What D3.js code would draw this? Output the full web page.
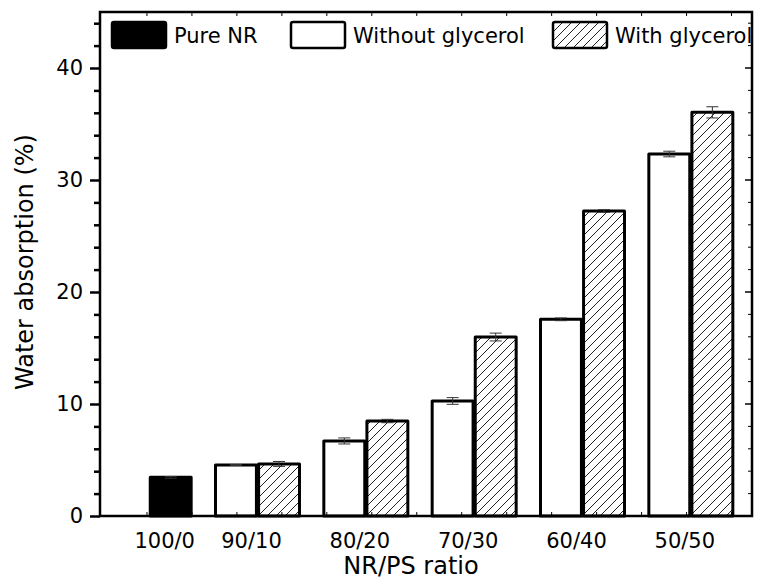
<!DOCTYPE html>
<html>
<head>
<meta charset="utf-8">
<script src="https://cdn.jsdelivr.net/npm/d3@7/dist/d3.min.js"></script>
<style>
  html, body { margin: 0; padding: 0; background: #fff; }
  svg { display: block; font-family: "DejaVu Sans", sans-serif; }
</style>
</head>
<body>
<svg id="chart" width="770" height="587"></svg>
<script>
// ---- data ----
const categories = ["100/0", "90/10", "80/20", "70/30", "60/40", "50/50"];
const seriesNames = ["Pure NR", "Without glycerol", "With glycerol"];
const pureNR      = [3.45, null, null, null, null, null];
const pureNRErr   = [0.08, null, null, null, null, null];
const withoutGly  = [null, 4.55, 6.70, 10.27, 17.56, 32.32];
const withoutErr  = [null, 0.04, 0.27, 0.30, 0.12, 0.25];
const withGly     = [null, 4.65, 8.48, 15.98, 27.23, 36.04];
const withErr     = [null, 0.22, 0.15, 0.35, 0.12, 0.50];
const yTicks = [0, 10, 20, 30, 40];

// ---- layout ----
const W = 770, H = 587;
const plot = { left: 100, right: 752, top: 12, bottom: 516 };
const svg = d3.select("#chart");

const y = d3.scaleLinear().domain([0, 45]).range([plot.bottom, plot.top]);
const x = d3.scaleBand().domain(categories).range([95, 745]).paddingInner(0).paddingOuter(0);
const inner = d3.scaleBand().domain(["a", "b"]).range([-42, 42]).paddingInner(0.05);

// hatch pattern
const defs = svg.append("defs");
const pat = defs.append("pattern").attr("id", "hatch").attr("patternUnits", "userSpaceOnUse")
  .attr("width", 9).attr("height", 9);
pat.append("path").attr("d", "M-2,2 l4,-4 M0,9 l9,-9 M7,11 l4,-4")
  .attr("stroke", "#222").attr("stroke-width", 1);

// bars
const bars = [];
categories.forEach((c, i) => {
  if (pureNR[i] != null) bars.push({ cat: c, slot: "b", v: pureNR[i], e: pureNRErr[i], s: 0 });
  if (withoutGly[i] != null) bars.push({ cat: c, slot: "a", v: withoutGly[i], e: withoutErr[i], s: 1 });
  if (withGly[i] != null) bars.push({ cat: c, slot: "b", v: withGly[i], e: withErr[i], s: 2 });
});
const fills = ["#000", "#fff", "url(#hatch)"];
const bx = d => x(d.cat) + x.bandwidth() / 2 + inner(d.slot);

svg.append("g").selectAll("rect").data(bars).join("rect")
  .attr("x", bx)
  .attr("y", d => y(d.v))
  .attr("width", inner.bandwidth())
  .attr("height", d => y(0) - y(d.v))
  .attr("fill", d => fills[d.s])
  .attr("stroke", "#000").attr("stroke-width", 3)
  .attr("stroke-linejoin", "round");

// error bars
const eg = svg.append("g").attr("stroke", "#333").attr("stroke-width", 1);
bars.forEach(d => {
  const cx = bx(d) + inner.bandwidth() / 2;
  eg.append("line").attr("x1", cx).attr("x2", cx).attr("y1", y(d.v + d.e)).attr("y2", y(d.v - d.e));
  eg.append("line").attr("x1", cx - 6).attr("x2", cx + 6).attr("y1", y(d.v + d.e)).attr("y2", y(d.v + d.e));
  eg.append("line").attr("x1", cx - 6).attr("x2", cx + 6).attr("y1", y(d.v - d.e)).attr("y2", y(d.v - d.e));
});

// frame minor ticks (top and bottom, inward)
const frameX = d3.scaleLinear().domain([0, 14.5]).range([plot.left + 2, plot.right + 2]);
const fticks = d3.range(1, 15);
svg.append("g").selectAll("line.tt").data(fticks).join("line")
  .attr("x1", d => frameX(d)).attr("x2", d => frameX(d))
  .attr("y1", plot.top).attr("y2", plot.top + 4)
  .attr("stroke", "#000").attr("stroke-width", 1);
svg.append("g").selectAll("line.bt").data(fticks).join("line")
  .attr("x1", d => frameX(d)).attr("x2", d => frameX(d))
  .attr("y1", plot.bottom).attr("y2", plot.bottom - 4)
  .attr("stroke", "#000").attr("stroke-width", 1);

// right axis inward ticks
const minorY = d3.range(0, 45, 2).filter(v => v % 10 !== 0);
svg.append("g").selectAll("line").data(minorY).join("line")
  .attr("x1", plot.right).attr("x2", plot.right - 4)
  .attr("y1", d => y(d)).attr("y2", d => y(d)).attr("stroke", "#000").attr("stroke-width", 1);
svg.append("g").selectAll("line").data(yTicks).join("line")
  .attr("x1", plot.right).attr("x2", plot.right - 7)
  .attr("y1", d => y(d)).attr("y2", d => y(d)).attr("stroke", "#000").attr("stroke-width", 1.5);

// frame box
svg.append("rect").attr("x", plot.left).attr("y", plot.top)
  .attr("width", plot.right - plot.left).attr("height", plot.bottom - plot.top)
  .attr("fill", "none").attr("stroke", "#000").attr("stroke-width", 2.5);

// left axis
const yAxis = d3.axisLeft(y).tickValues(yTicks).tickSize(10).tickPadding(7).tickFormat(d3.format("d"));
const gy = svg.append("g").attr("transform", `translate(${plot.left},0)`).call(yAxis);
gy.select(".domain").remove();
gy.selectAll(".tick line").attr("stroke-width", 2.5);
gy.selectAll(".tick text").attr("font-size", 21).attr("font-family", "DejaVu Sans").attr("fill", "#000");
const gym = svg.append("g").attr("transform", `translate(${plot.left},0)`)
  .call(d3.axisLeft(y).tickValues(minorY).tickSize(6).tickFormat(""));
gym.select(".domain").remove();
gym.selectAll(".tick line").attr("stroke-width", 2.5);

// bottom tick labels
const labelX = c => {
  const bs = bars.filter(b => b.cat === c);
  const l = d3.min(bs, bx), r = d3.max(bs, b => bx(b) + inner.bandwidth());
  return (l + r) / 2 - 6;
};
svg.append("g").selectAll("text").data(categories).join("text")
  .attr("x", labelX).attr("y", 548)
  .attr("text-anchor", "middle").attr("font-size", 21).attr("fill", "#000")
  .text(d => d);

// axis titles
svg.append("text").attr("x", 411).attr("y", 574).attr("text-anchor", "middle")
  .attr("font-size", 24).attr("fill", "#000").text("NR/PS ratio");
svg.append("text").attr("transform", "translate(33,262) rotate(-90)").attr("text-anchor", "middle")
  .attr("font-size", 24).attr("fill", "#000").text("Water absorption (%)");

// legend
const legendX = [112, 291, 553];
const lg = svg.append("g");
seriesNames.forEach((name, i) => {
  lg.append("rect").attr("x", legendX[i]).attr("y", 22).attr("width", 54).attr("height", 26)
    .attr("rx", 2).attr("fill", fills[i]).attr("stroke", "#000").attr("stroke-width", 2.5);
  lg.append("text").attr("x", legendX[i] + 62).attr("y", 43).attr("font-size", 21)
    .attr("fill", "#000").text(name);
});
</script>
</body>
</html>
